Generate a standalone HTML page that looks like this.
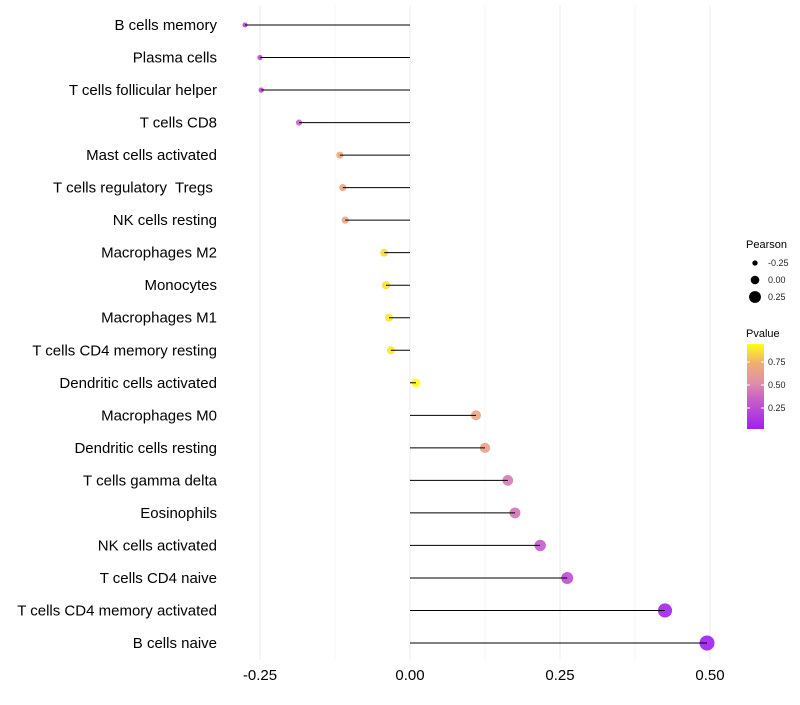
<!DOCTYPE html>
<html><head><meta charset="utf-8"><style>
body{margin:0;background:#fff;font-family:"Liberation Sans",sans-serif}
text{white-space:pre}
</style></head><body>
<svg id="chart" width="800" height="700" xmlns="http://www.w3.org/2000/svg">
<defs><linearGradient id="pg" x1="0" y1="1" x2="0" y2="0">
<stop offset="0" stop-color="#a020f0"/><stop offset="0.35" stop-color="#c860c8"/><stop offset="0.55" stop-color="#e090a8"/><stop offset="0.78" stop-color="#f0b070"/><stop offset="1" stop-color="#ffff10"/></linearGradient></defs>
</svg>
<script>
const categories=["B cells memory","Plasma cells","T cells follicular helper","T cells CD8","Mast cells activated","T cells regulatory  Tregs ","NK cells resting","Macrophages M2","Monocytes","Macrophages M1","T cells CD4 memory resting","Dendritic cells activated","Macrophages M0","Dendritic cells resting","T cells gamma delta","Eosinophils","NK cells activated","T cells CD4 naive","T cells CD4 memory activated","B cells naive"];
const pearson=[-0.275,-0.25,-0.248,-0.185,-0.117,-0.112,-0.108,-0.043,-0.04,-0.035,-0.032,0.01,0.11,0.125,0.163,0.175,0.217,0.262,0.425,0.495];
const pvalue=[0.22,0.26,0.26,0.38,0.72,0.7,0.7,0.88,0.89,0.91,0.91,0.97,0.7,0.66,0.47,0.44,0.34,0.27,0.06,0.03];
const xTicks=[-0.25,0,0.25,0.5];
const xTickLabels=["-0.25","0.00","0.25","0.50"];
const NS="http://www.w3.org/2000/svg";
const svg=document.getElementById('chart');
const x=v=>410+v*600;
const y=i=>25+i*(643-25)/(categories.length-1);
const rad=v=>4.3+6.5*v;
const stops=[[0,[160,32,240]],[0.35,[200,96,200]],[0.55,[224,144,168]],[0.78,[240,176,112]],[1,[255,255,16]]];
function col(p){let t=(p-0.04)/(0.97-0.04);t=Math.max(0,Math.min(1,t));
for(let k=1;k<stops.length;k++){if(t<=stops[k][0]){const a=stops[k-1],b=stops[k],f=(t-a[0])/(b[0]-a[0]);
return 'rgb('+a[1].map((c,j)=>Math.round(c+(b[1][j]-c)*f)).join(',')+')';}}return 'rgb(255,255,16)';}
function mk(tag,attrs,parent){const e=document.createElementNS(NS,tag);for(const k in attrs)e.setAttribute(k,attrs[k]);(parent||svg).appendChild(e);return e;}
for(let v=-0.25;v<=0.5001;v+=0.125){const g=mk('line',{x1:x(v),x2:x(v),y1:5,y2:660,stroke:Math.abs((v/0.25)%1)<1e-6?'#ebebeb':'#f4f4f4','stroke-width':1});

}
xTicks.forEach((v,i)=>{const t=mk('text',{x:x(v),y:680,'text-anchor':'middle','font-size':15,fill:'#000'});t.textContent=xTickLabels[i];

});
categories.forEach((c,i)=>{
const t=mk('text',{x:217,y:y(i)+5,'text-anchor':'end','font-size':15,fill:'#000'});t.textContent=c;


const p=mk('circle',{cx:x(pearson[i]),cy:y(i),r:rad(pearson[i]),fill:col(pvalue[i]),'fill-opacity':0.9});


const l=mk('line',{x1:x(0),x2:x(pearson[i]),y1:y(i),y2:y(i),stroke:'#000','stroke-width':1});


});
const lg=mk('g',{});


mk('text',{x:746,y:248,'font-size':11,fill:'#000'},lg).textContent='Pearson';
[-0.25,0,0.25].forEach((v,i)=>{mk('circle',{cx:755,cy:263+i*17,r:rad(v),fill:'#000'},lg);
mk('text',{x:768,y:266+i*17,'font-size':9,fill:'#222'},lg).textContent=v.toFixed(2);});
mk('text',{x:746,y:337,'font-size':11,fill:'#000'},lg).textContent='Pvalue';
mk('rect',{x:747,y:344,width:17,height:85,fill:'url(#pg)'},lg);
[[0.75,362],[0.5,385],[0.25,408]].forEach(a=>{mk('line',{x1:747,x2:750,y1:a[1],y2:a[1],stroke:'#fff'},lg);mk('line',{x1:761,x2:764,y1:a[1],y2:a[1],stroke:'#fff'},lg);
mk('text',{x:768,y:a[1]+3,'font-size':9,fill:'#222'},lg).textContent=a[0].toFixed(2);});
</script>
</body></html>
